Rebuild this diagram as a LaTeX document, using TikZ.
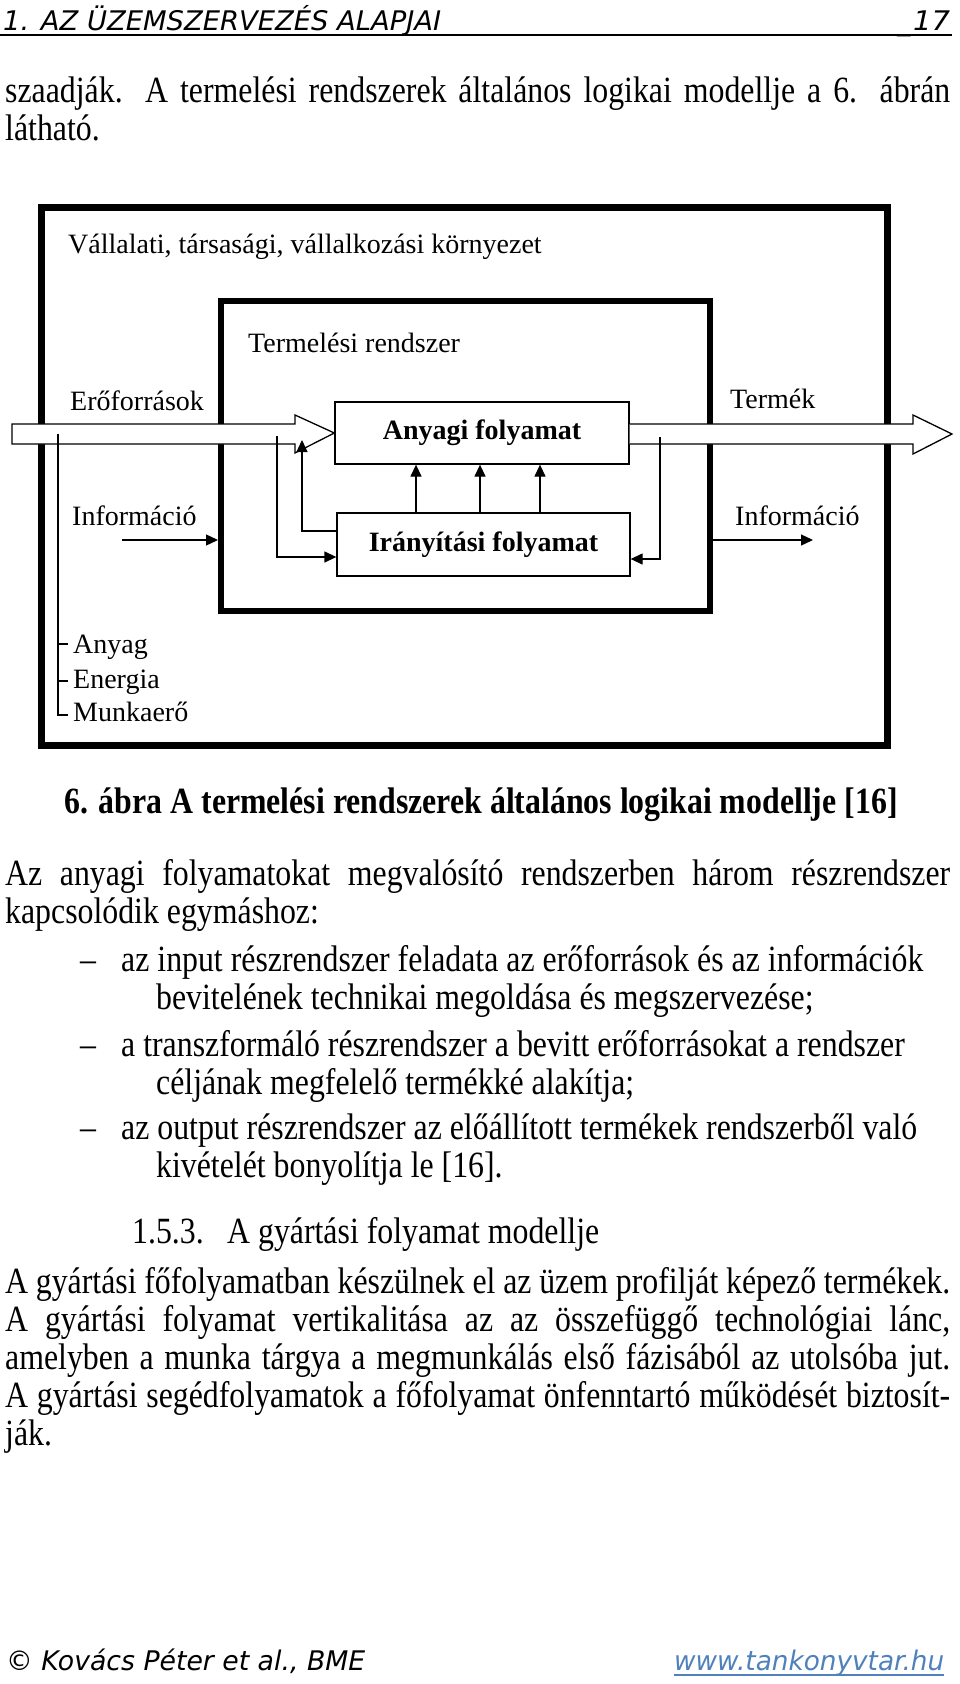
\documentclass[tikz,border=0pt]{standalone}
\usepackage{fontspec}
\usepackage{graphicx}
\setmainfont{Liberation Serif}
\newfontfamily\bodyfont[FakeStretch=0.86]{Liberation Serif}
\newfontfamily\hdrfont{DejaVu Sans}
\usetikzlibrary{arrows.meta,calc}
\definecolor{linkblue}{RGB}{79,129,189}
\begin{document}
\begin{tikzpicture}[x=1pt,y=-1pt,
  lbl/.style={anchor=base west,inner sep=0pt,font=\fontsize{28}{30}\selectfont},
  procbox/.style={draw,line width=1.3pt,fill=white,inner sep=0pt,font=\fontsize{28}{30}\selectfont\bfseries},
  thin/.style={line width=1.3pt},
  arr/.style={thin,-{Triangle[length=12pt,width=11pt]}},
  bigarrow/.style={line width=1.3pt,fill=white,line join=miter},
  bodyl/.style={anchor=base west,inner sep=0pt,font=\bodyfont\fontsize{37}{38}\selectfont},
  hdr/.style={anchor=base west,inner sep=0pt,font=\hdrfont\itshape\fontsize{27}{29}\selectfont}
]
\useasboundingbox (0,0) rectangle (960,1684);
\fill[white] (0,0) rectangle (960,1684);

% ---------- header ----------
\node[hdr] (h1) at (3,30) {\resizebox{438pt}{\height}{1. AZ ÜZEMSZERVEZÉS ALAPJAI}};
\node[hdr] (h2) at (897,30) {\_};
\node[hdr] (h3) at (913,30) {\resizebox{37pt}{\height}{17}};
\draw[line width=1.4pt] (0,35) -- (952,35);

% ---------- first text lines ----------
\node[bodyl] (t1) at (5,102) {\makebox[945pt][s]{szaadják. A termelési rendszerek általános logikai modellje a 6. ábrán}};
\node[bodyl] (t2) at (5,140) {látható.};

% ---------- diagram ----------
\draw[line width=7pt] (41,207) rectangle (887,745);
\draw[line width=6pt] (221,301) rectangle (710,611);

\node[procbox,minimum width=294pt,minimum height=62pt] (any) at (482,433) {Anyagi folyamat};
\node[procbox,minimum width=293pt,minimum height=63pt] (ir) at (483.5,544.5) {Irányítási folyamat};

% big input arrow
\coordinate (inL) at (12,434);
\draw[bigarrow] (inL |- 0,424) -- (295,424) -- (295,415) -- (any.west) -- (295,453) -- (295,444) -- (inL |- 0,444) -- cycle;
% big output arrow
\coordinate (outR) at (952,434);
\draw[bigarrow] (any.east |- 0,424) -- (913,424) -- (913,415) -- (outR) -- (913,454) -- (913,444) -- (any.east |- 0,444);

% control arrows
\foreach \xx [count=\i] in {416,480,540}{
  \coordinate (v\i) at (\xx,0);
  \draw[arr] (ir.north -| v\i) -- (any.south -| v\i);
}
% feedback lines
\coordinate (a1) at (302,440);
\coordinate (b1) at (0,531);
\draw[arr] (ir.west |- b1) -| (a1);
\coordinate (a2) at (277,436);
\coordinate (b2) at (0,557);
\draw[arr] (a2) |- (ir.west |- b2);
\coordinate (a3) at (660,437);
\coordinate (b3) at (0,559);
\draw[arr] (a3) |- (ir.east |- b3);

% resource line
\coordinate (r0) at (58,434);
\coordinate (r1) at (68,715);
\coordinate (tk1) at (68,644);
\coordinate (tk2) at (68,681);
\draw[thin] (r0) |- (r1);
\draw[thin] (r0 |- tk1) -- (tk1);
\draw[thin] (r0 |- tk2) -- (tk2);

% information arrows
\coordinate (iL0) at (122,540);
\coordinate (iL1) at (218,540);
\draw[arr] (iL0) -- (iL1);
\coordinate (iR0) at (713,540);
\coordinate (iR1) at (813,540);
\draw[arr] (iR0) -- (iR1);

% labels
\node[lbl] (env) at (68,253) {Vállalati, társasági, vállalkozási környezet};
\node[lbl] (trs) at (248,352) {Termelési rendszer};
\node[lbl] (erf) at (70,410) {Erőforrások};
\node[lbl] (trm) at (730,408) {Termék};
\node[lbl] (infL) at (72,525) {Információ};
\node[lbl] (infR) at (735,525) {Információ};
\node[lbl] (any1) at (73,653) {Anyag};
\node[lbl] (en1) at (73,688) {Energia};
\node[lbl] (mu1) at (73,721) {Munkaerő};

% ---------- caption ----------
\node[bodyl,anchor=base] (cap) at (481,813) {\bfseries 6. ábra A termelési rendszerek általános logikai modellje [16]};

% ---------- body ----------
\node[bodyl] (p1) at (5,885.5) {\makebox[945pt][s]{Az anyagi folyamatokat megvalósító rendszerben három részrendszer}};
\node[bodyl] (p2) at (5,923.5) {kapcsolódik egymáshoz:};
\node[bodyl] (d1) at (80,971.5) {–};
\node[bodyl] (b1a) at (121,971.5) {az input részrendszer feladata az erőforrások és az információk};
\node[bodyl] (b1b) at (156,1009.5) {bevitelének technikai megoldása és megszervezése;};
\node[bodyl] (d2) at (80,1056.5) {–};
\node[bodyl] (b2a) at (121,1056.5) {a transzformáló részrendszer a bevitt erőforrásokat a rendszer};
\node[bodyl] (b2b) at (156,1094.5) {céljának megfelelő termékké alakítja;};
\node[bodyl] (d3) at (80,1139) {–};
\node[bodyl] (b3a) at (121,1139) {az output részrendszer az előállított termékek rendszerből való};
\node[bodyl] (b3b) at (156,1177) {kivételét bonyolítja le [16].};
\node[bodyl] (s1) at (132,1243.5) {1.5.3.};
\node[bodyl] (s2) at (227,1243.5) {A gyártási folyamat modellje};
\node[bodyl] (q1) at (5,1293) {\makebox[945pt][s]{A gyártási főfolyamatban készülnek el az üzem profilját képező termékek.}};
\node[bodyl] (q2) at (5,1331) {\makebox[945pt][s]{A gyártási folyamat vertikalitása az az összefüggő technológiai lánc,}};
\node[bodyl] (q3) at (5,1369) {\makebox[945pt][s]{amelyben a munka tárgya a megmunkálás első fázisából az utolsóba jut.}};
\node[bodyl] (q4) at (5,1407) {\makebox[945pt][s]{A gyártási segédfolyamatok a főfolyamat önfenntartó működését biztosít-}};
\node[bodyl] (q5) at (5,1445) {ják.};

% ---------- footer ----------
\node[hdr] (f1) at (6,1670) {\resizebox{359pt}{\height}{© Kovács Péter et al., BME}};
\node[hdr,text=linkblue] (f2) at (674,1670) {\resizebox{270pt}{\height}{www.tankonyvtar.hu}};
\draw[linkblue,line width=1.2pt] (674,1675) -- (944,1675);
\end{tikzpicture}
\end{document}
